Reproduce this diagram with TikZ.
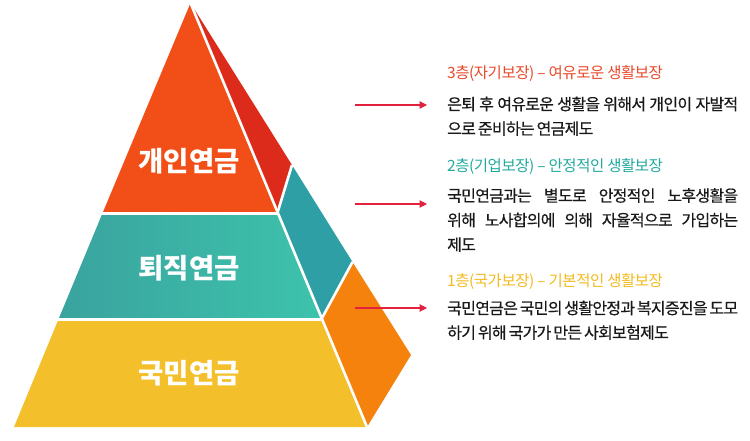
\documentclass[tikz,border=0pt]{standalone}
\usepackage{fontspec}
\usepackage{xcolor}
\usetikzlibrary{arrows.meta, positioning}
\newfontfamily\kr{Noto Sans CJK KR}
\newfontfamily\krhead[LetterSpace=-3]{Noto Sans CJK KR}
\newfontfamily\krbody[LetterSpace=-4.5, WordSpace=0.7, FakeBold=0.5]{Noto Sans CJK KR}
\definecolor{tierred}{HTML}{F14F17}
\definecolor{tiertealL}{HTML}{3AA39E}
\definecolor{tiertealR}{HTML}{3DC3AC}
\definecolor{tieryellow}{HTML}{F3C02B}
\definecolor{sidered}{HTML}{DD2B1B}
\definecolor{sideteal}{HTML}{2E9FA5}
\definecolor{sideorange}{HTML}{F5820D}
\definecolor{headred}{HTML}{E8492A}
\definecolor{headteal}{HTML}{22A99E}
\definecolor{headyellow}{HTML}{F2BA1F}
\definecolor{arrowred}{HTML}{E2213F}

\begin{document}
\begin{tikzpicture}[
  x=1pt, y=-1pt,
  tier/.style={font=\kr\bfseries\fontsize{27.5}{30}\selectfont, text=white, inner sep=0pt},
  head/.style={font=\krhead\fontsize{15.5}{24}\selectfont, anchor=west, inner sep=0pt},
  body/.style={font=\krbody\fontsize{16}{24.5}\selectfont, anchor=north west, inner sep=0pt,
    text width=291pt, align=justify, text=black!90},
  gap/.style={draw=white, line width=2.6pt},
  arrow/.style={draw=arrowred, line width=1.1pt, -{Triangle[length=7.5pt, width=7.5pt]}}
]
  \useasboundingbox (0,0) rectangle (750,441);

  % pyramid corners
  \coordinate (apex) at (190.5,3);
  \coordinate (bl) at (14,427);
  \coordinate (br) at (367,427);
  \coordinate (ridge) at (411,355);
  \coordinate (s1) at (277.7,212);
  \coordinate (s1b) at (292,165);
  \coordinate (s2) at (322,318);
  \coordinate (s2b) at (352.5,262);

  % front face
  \fill[tierred] (apex) -- (s1) -- (103,212) -- cycle;
  \shade[left color=tiertealL, right color=tiertealR]
    (103,212) -- (s1) -- (s2) -- (59,318) -- cycle;
  \fill[tieryellow] (59,318) -- (s2) -- (br) -- (bl) -- cycle;

  % side face
  \fill[sidered] (apex) -- (s1b) -- (s1) -- cycle;
  \fill[sideteal] (s1) -- (s1b) -- (s2b) -- (s2) -- cycle;
  \fill[sideorange] (s2) -- (s2b) -- (ridge) -- (br) -- cycle;

  % white seams
  \draw[gap] (apex) -- (br);
  \draw[gap] (95,213.5) -- (278.5,213.5);
  \draw[gap] (50,319.5) -- (322.6,319.5);
  \draw[gap] (s1) -- (s1b);
  \draw[gap] (s2) -- (s2b);

  \node[tier] (t1) at (189,161) {개인연금};
  \node[tier] (t2) at (189,268) {퇴직연금};
  \node[tier] (t3) at (189,373) {국민연금};

  % descriptions
  \node[head, text=headred] (h3) at (447,74) {3층(자기보장) – 여유로운 생활보장};
  \node[body] (b3) at (447,96.5) {은퇴 후 여유로운 생활을 위해서 개인이 자발적\linebreak 으로 준비하는 연금제도};
  \node[head, text=headteal] (h2) at (447,167) {2층(기업보장) – 안정적인 생활보장};
  \node[body] (b2) at (447,188) {국민연금과는 별도로 안정적인 노후생활을\linebreak 위해 노사합의에 의해 자율적으로 가입하는\linebreak 제도};
  \node[head, text=headyellow] (h1) at (447,282) {1층(국가보장) – 기본적인 생활보장};
  \node[body] (b1) at (447,300.5) {국민연금은 국민의 생활안정과 복지증진을 도모\linebreak 하기 위해 국가가 만든 사회보험제도};

  % arrows
  \coordinate (a3) at (355,105);
  \coordinate (e3) at (427,105);
  \coordinate (a2) at (355,204);
  \coordinate (e2) at (427,204);
  \coordinate (a1) at (355,308);
  \coordinate (e1) at (427,308);
  \draw[arrow] (a3) -- (e3);
  \draw[arrow] (a2) -- (e2);
  \draw[arrow] (a1) -- (e1);
\end{tikzpicture}
\end{document}
